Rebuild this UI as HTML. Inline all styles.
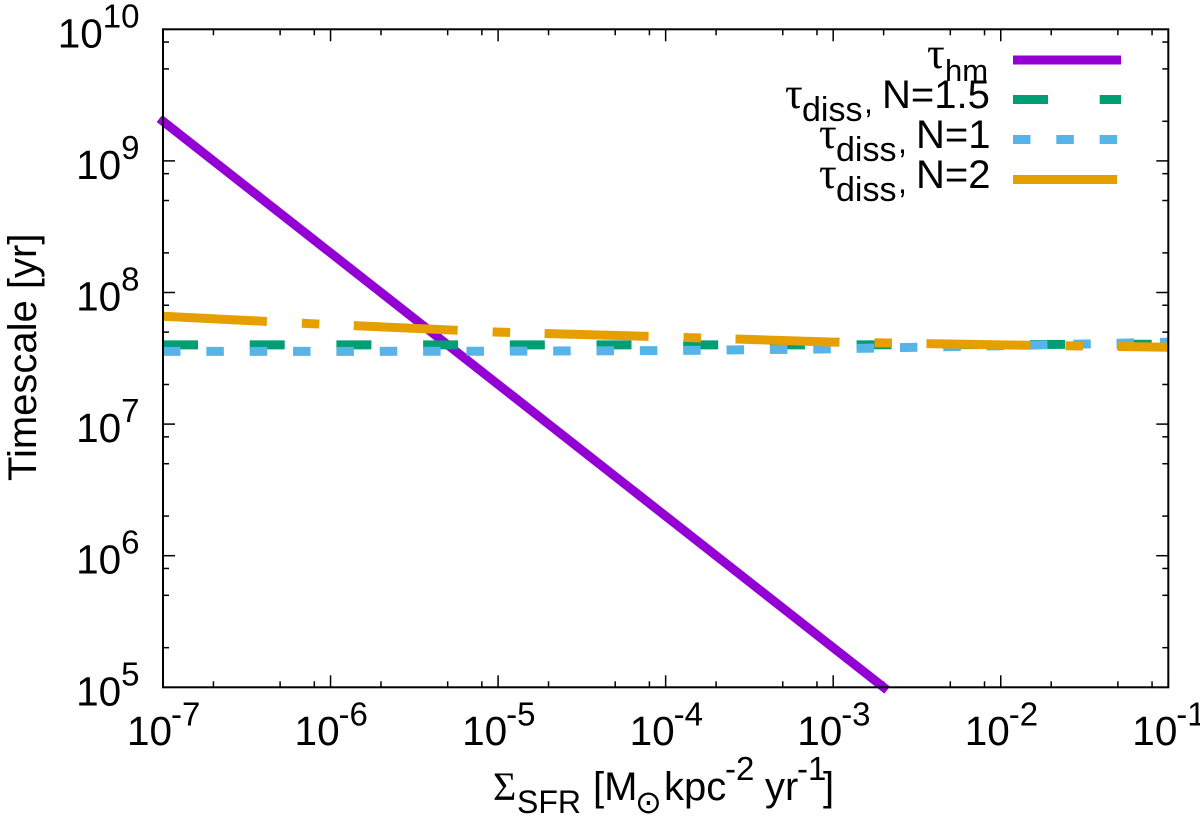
<!DOCTYPE html>
<html lang="en">
<head>
<meta charset="utf-8">
<title>Timescale vs star formation rate surface density</title>
<style>
html,body{margin:0;padding:0;background:#fff;}
svg{display:block;}
text{font-family:"Liberation Sans",sans-serif;fill:#000;}
.tick{font-size:40.5px;}
.sup{font-size:33px;}
.tau{font-family:"Liberation Serif",serif;font-size:44px;}
</style>
</head>
<body>
<svg id="chart" xmlns="http://www.w3.org/2000/svg" width="1200" height="818" viewBox="0 0 1200 818">
  <rect x="0" y="0" width="1200" height="818" fill="#fff"/>
  <g id="ticks"></g>
  <g id="tick-labels"></g>
  <g id="series"></g>
  <rect x="163" y="29.3" width="1005.3" height="658" fill="none" stroke="#000" stroke-width="2"/>

  <text transform="translate(36,481) rotate(-90)" font-size="40">Timescale [yr]</text>

  <g>
    <text x="493" y="800" font-size="40" style="font-family:'Liberation Serif','DejaVu Serif',serif">Σ</text>
    <text x="517" y="813" font-size="32">SFR</text>
    <text x="593" y="800" font-size="40">[M</text>
    <text x="635" y="813" font-size="32" style="font-family:'DejaVu Sans',sans-serif">⊙</text>
    <text x="664" y="800" font-size="40">kpc</text>
    <text x="725" y="780" font-size="33">-2</text>
    <text x="765" y="800" font-size="40">yr</text>
    <text x="797" y="780" font-size="33">-1</text>
    <text x="823" y="800" font-size="40">]</text>
  </g>

  <g>
    <g>
      <text class="tau" x="927" y="68">τ</text>
      <text x="945" y="81" font-size="31">hm</text>
    </g>
    <g>
      <text class="tau" x="785" y="108">τ</text>
      <text x="802" y="121" font-size="34">diss</text>
      <text x="864" y="113" font-size="32">,</text>
      <text x="882" y="108" font-size="40">N=1.5</text>
    </g>
    <g>
      <text class="tau" x="819" y="148">τ</text>
      <text x="836" y="161" font-size="34">diss</text>
      <text x="898" y="153" font-size="32">,</text>
      <text x="916" y="148" font-size="40">N=1</text>
    </g>
    <g>
      <text class="tau" x="819" y="188">τ</text>
      <text x="836" y="201" font-size="34">diss</text>
      <text x="898" y="193" font-size="32">,</text>
      <text x="916" y="188" font-size="40">N=2</text>
    </g>
    <line x1="1013" x2="1121" y1="60" y2="60" stroke="#9400d3" stroke-width="9"/>
    <line x1="1013" x2="1121" y1="99.5" y2="99.5" stroke="#009e73" stroke-width="9" stroke-dasharray="35 51.7"/>
    <line x1="1013" x2="1118" y1="139.5" y2="139.5" stroke="#56b4e9" stroke-width="9" stroke-dasharray="17.5 25.8"/>
    <line x1="1013" x2="1118" y1="179.5" y2="179.5" stroke="#e69f00" stroke-width="9" stroke-dasharray="104 35 17.5 35"/>
  </g>
</svg>
<script>
// Chart data
const xValuesHm = [1e-7, 1e-6, 1e-5, 1e-4, 1e-3, 2e-3];
const tauHm = [2e9, 2e8, 2e7, 2e6, 2e5, 1e5];
const xValuesDiss = [1e-7, 1e-6, 1e-5, 1e-4, 1e-3, 1e-2, 1e-1];
const tauDissN15 = [4.0e7, 4.0e7, 4.0e7, 4.0e7, 4.0e7, 4.02e7, 4.05e7];
const tauDissN1 = [3.57e7, 3.57e7, 3.58e7, 3.62e7, 3.73e7, 3.94e7, 4.19e7];
const tauDissN2 = [6.6e7, 5.7e7, 5.0e7, 4.6e7, 4.2e7, 4.0e7, 3.84e7];
const xTickExponents = ['-7', '-6', '-5', '-4', '-3', '-2', '-1'];
const yTickExponents = ['5', '6', '7', '8', '9', '10'];
const minorMultipliers = [2, 5, 8];

// Axis functions
const plotLeft = 163, plotRight = 1168.3, plotTop = 29.3, plotBottom = 687.3;
const xMinLog = -7, xMaxLog = -1, yMinLog = 5, yMaxLog = 10;
function xScale(v) {
  return plotLeft + (Math.log10(v) - xMinLog) / (xMaxLog - xMinLog) * (plotRight - plotLeft);
}
function yScale(v) {
  return plotBottom - (Math.log10(v) - yMinLog) / (yMaxLog - yMinLog) * (plotBottom - plotTop);
}

const NS = 'http://www.w3.org/2000/svg';
const tickGroup = document.getElementById('ticks');
const labelGroup = document.getElementById('tick-labels');
const seriesGroup = document.getElementById('series');

function tickLine(x1, y1, x2, y2, name) {
  const el = document.createElementNS(NS, 'line');
  el.setAttribute('x1', x1);
  el.setAttribute('y1', y1);
  el.setAttribute('x2', x2);
  el.setAttribute('y2', y2);
  el.setAttribute('stroke', '#000');
  el.setAttribute('stroke-width', '1.5');
  
  
  tickGroup.appendChild(el);
}

const MAJOR = 12, MINOR = 6;

xTickExponents.forEach(function (e) {
  const decade = Math.pow(10, Number(e));
  const x = xScale(decade);
  tickLine(x, plotBottom, x, plotBottom - MAJOR, 'x-major-tick');
  tickLine(x, plotTop, x, plotTop + MAJOR, 'x-major-tick-top');
  if (Number(e) < xMaxLog) {
    minorMultipliers.forEach(function (m) {
      const xm = xScale(decade * m);
      tickLine(xm, plotBottom, xm, plotBottom - MINOR, 'x-minor-tick');
      tickLine(xm, plotTop, xm, plotTop + MINOR, 'x-minor-tick-top');
    });
  }
  const base = document.createElementNS(NS, 'text');
  base.setAttribute('x', x - 36);
  base.setAttribute('y', 745);
  base.setAttribute('class', 'tick');
  base.textContent = '10';
  
  
  labelGroup.appendChild(base);
  const exp = document.createElementNS(NS, 'text');
  exp.setAttribute('x', x + 8);
  exp.setAttribute('y', 725.5);
  exp.setAttribute('class', 'sup');
  exp.textContent = e;
  
  
  labelGroup.appendChild(exp);
});

yTickExponents.forEach(function (e) {
  const decade = Math.pow(10, Number(e));
  const y = yScale(decade);
  tickLine(plotLeft, y, plotLeft + MAJOR, y, 'y-major-tick');
  tickLine(plotRight, y, plotRight - MAJOR, y, 'y-major-tick-right');
  if (Number(e) < yMaxLog) {
    minorMultipliers.forEach(function (m) {
      const ym = yScale(decade * m);
      tickLine(plotLeft, ym, plotLeft + MINOR, ym, 'y-minor-tick');
      tickLine(plotRight, ym, plotRight - MINOR, ym, 'y-minor-tick-right');
    });
  }
  const exp = document.createElementNS(NS, 'text');
  exp.setAttribute('x', 139.5);
  exp.setAttribute('y', y - 2);
  exp.setAttribute('class', 'sup');
  exp.setAttribute('text-anchor', 'end');
  exp.textContent = e;
  
  
  labelGroup.appendChild(exp);
  const base = document.createElementNS(NS, 'text');
  base.setAttribute('x', 139.5 - e.length * 18.35);
  base.setAttribute('y', y + 18);
  base.setAttribute('class', 'tick');
  base.setAttribute('text-anchor', 'end');
  base.textContent = '10';
  
  
  labelGroup.appendChild(base);
});

function pathFrom(xs, ys) {
  return xs.map(function (v, i) {
    return (i ? 'L' : 'M') + xScale(v).toFixed(2) + ' ' + yScale(ys[i]).toFixed(2);
  }).join(' ');
}

const hmLine = document.createElementNS(NS, 'path');
hmLine.setAttribute('d', pathFrom(xValuesHm, tauHm));
hmLine.setAttribute('fill', 'none');
hmLine.setAttribute('stroke', '#9400d3');
hmLine.setAttribute('stroke-width', '9');
hmLine.setAttribute('stroke-linecap', 'square');


seriesGroup.appendChild(hmLine);

const n15Line = document.createElementNS(NS, 'path');
n15Line.setAttribute('d', pathFrom(xValuesDiss, tauDissN15));
n15Line.setAttribute('fill', 'none');
n15Line.setAttribute('stroke', '#009e73');
n15Line.setAttribute('stroke-width', '9');
n15Line.setAttribute('stroke-dasharray', '35 51.7');


seriesGroup.appendChild(n15Line);

const n1Line = document.createElementNS(NS, 'path');
n1Line.setAttribute('d', pathFrom(xValuesDiss, tauDissN1));
n1Line.setAttribute('fill', 'none');
n1Line.setAttribute('stroke', '#56b4e9');
n1Line.setAttribute('stroke-width', '9');
n1Line.setAttribute('stroke-dasharray', '17.5 25.85');


seriesGroup.appendChild(n1Line);

const n2Line = document.createElementNS(NS, 'path');
n2Line.setAttribute('d', pathFrom(xValuesDiss, tauDissN2));
n2Line.setAttribute('fill', 'none');
n2Line.setAttribute('stroke', '#e69f00');
n2Line.setAttribute('stroke-width', '9');
n2Line.setAttribute('stroke-dasharray', '104 35 17.5 34.5');


seriesGroup.appendChild(n2Line);
</script>
</body>
</html>
